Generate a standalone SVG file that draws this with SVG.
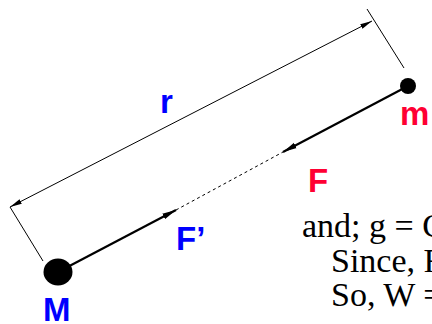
<svg xmlns="http://www.w3.org/2000/svg" width="432" height="324" viewBox="0 0 432 324">
<defs>
<style>
.lbl{font-family:"Liberation Sans",Arial,sans-serif;font-weight:bold;font-size:33px}
.blue{fill:#0000ff}
.red{fill:#ff0033}
.txt{font-family:"Liberation Serif","Times New Roman",serif;font-size:34px;fill:#000}
.thin{stroke:#000;stroke-width:1;fill:none}
.thick{stroke:#000;stroke-width:2.2;fill:none}
.dash{stroke:#000;stroke-width:1;stroke-dasharray:3 3;fill:none}
</style>
<marker id="ah" viewBox="0 0 12 6" refX="12" refY="3" markerWidth="12" markerHeight="6" markerUnits="userSpaceOnUse" orient="auto">
<path d="M0,0.5 L12,3 L0,5.5 Z" fill="#000"/>
</marker>
<marker id="ahs" viewBox="0 0 12 6" refX="0" refY="3" markerWidth="12" markerHeight="6" markerUnits="userSpaceOnUse" orient="auto">
<path d="M12,0.5 L0,3 L12,5.5 Z" fill="#000"/>
</marker>
<marker id="fh" viewBox="0 0 14 7" refX="14" refY="3.5" markerWidth="14" markerHeight="7" markerUnits="userSpaceOnUse" orient="auto">
<path d="M0,0.5 L14,3.5 L0,6.5 Z" fill="#000"/>
</marker>
</defs>
<g id="connectors">
<line class="thin" x1="10" y1="207" x2="372" y2="21" marker-start="url(#ahs)" marker-end="url(#ah)"/>
<line class="thin" x1="367" y1="9" x2="404" y2="68"/>
<line class="thin" x1="10" y1="207" x2="43" y2="261"/>
<line class="thick" x1="58" y1="272" x2="176" y2="210" marker-end="url(#fh)"/>
<line class="dash" x1="176" y1="210" x2="283" y2="152"/>
<line class="thick" x1="408" y1="86" x2="283" y2="152" marker-end="url(#fh)"/>
</g>
<g id="M">
<ellipse cx="58" cy="272" rx="14.5" ry="13.5" fill="#000"/>
<text class="lbl blue" x="43" y="321">M</text>
</g>
<g id="m">
<circle cx="408" cy="86" r="8" fill="#000"/>
<text class="lbl red" x="400" y="125">m</text>
</g>
<g id="labels">
<text class="lbl blue" x="160" y="113">r</text>
<text class="lbl red" x="308" y="192">F</text>
<text class="lbl blue" x="176" y="250">F’</text>
</g>
<g id="text">
<text class="txt" x="302" y="237">and; g = G</text>
<text class="txt" x="331" y="272">Since, F</text>
<text class="txt" x="331" y="306">So, W =</text>
</g>
</svg>
